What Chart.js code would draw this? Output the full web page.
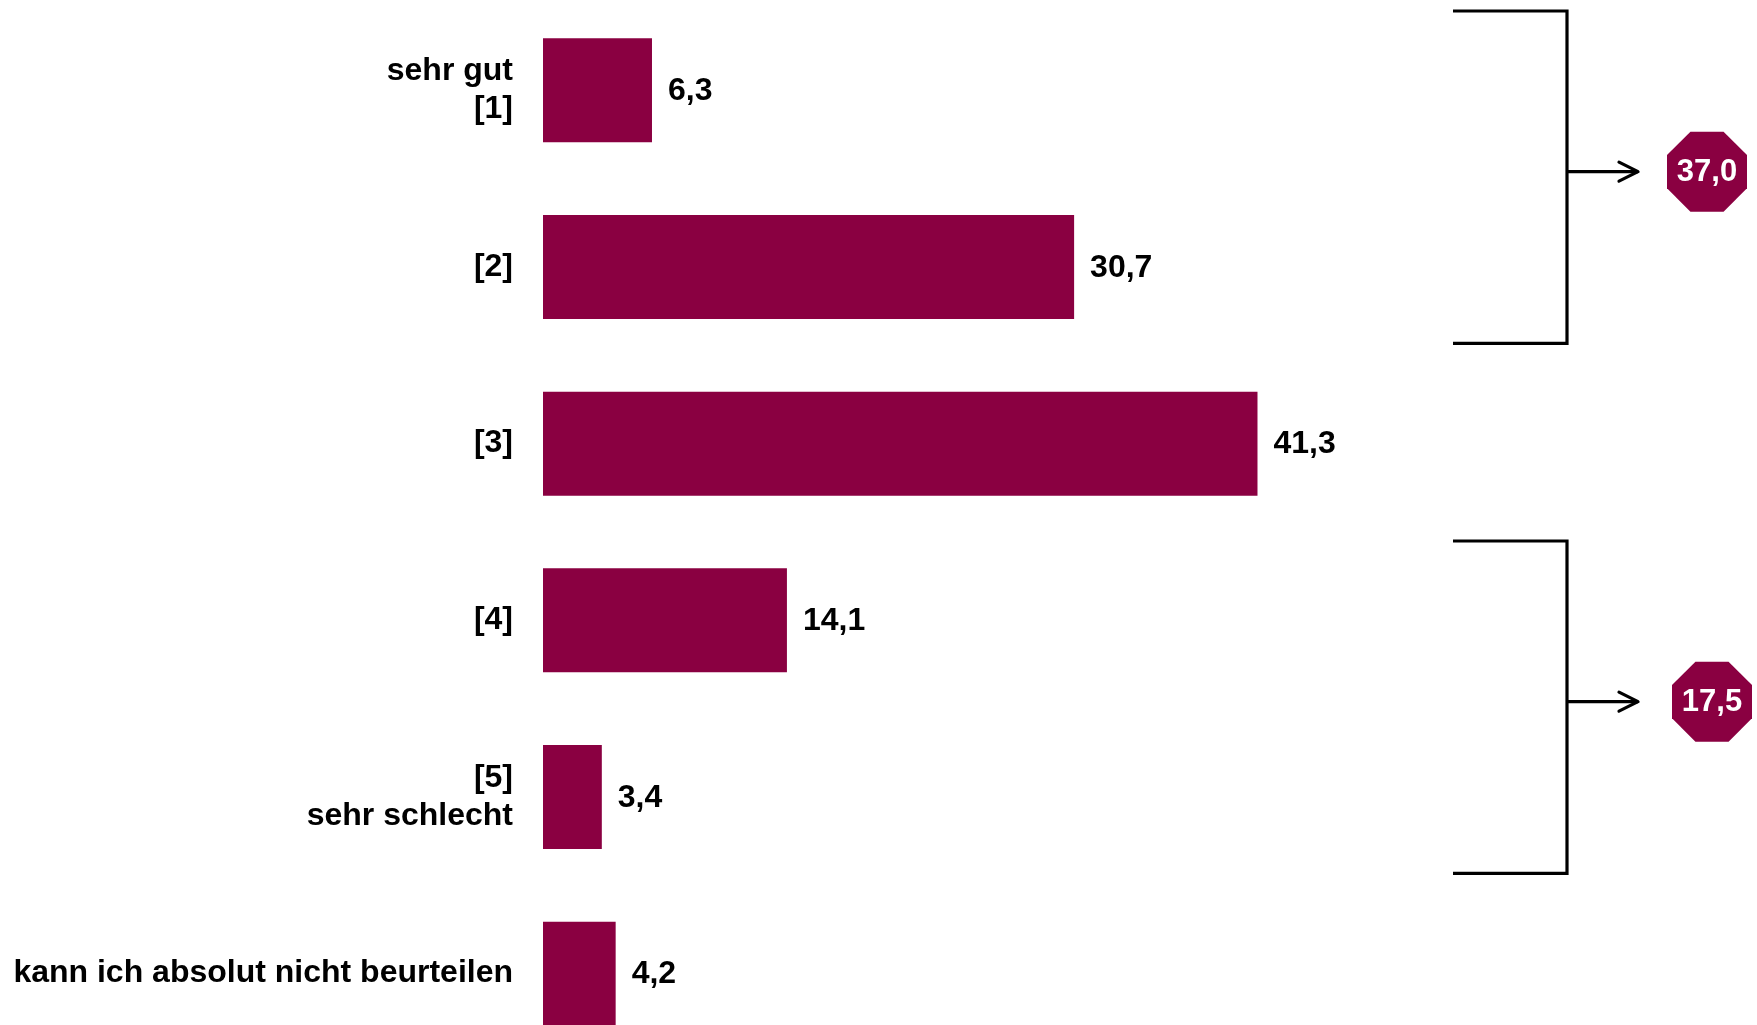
<!DOCTYPE html>
<html>
<head>
<meta charset="utf-8">
<script src="https://cdn.jsdelivr.net/npm/chart.js@4/dist/chart.umd.min.js"></script>
<style>
  html, body { margin: 0; padding: 0; background: #ffffff; overflow: hidden; }
  #wrap { width: 1757px; height: 1062px; }
</style>
</head>
<body>
<div id="wrap"><canvas id="chart" width="1757" height="1062"></canvas></div>
<script>
// Rating categories (top to bottom) and their shares in percent
const categories = [
  ['sehr gut', '[1]'],
  '[2]',
  '[3]',
  '[4]',
  ['[5]', 'sehr schlecht'],
  'kann ich absolut nicht beurteilen'
];
const shares = [6.3, 30.7, 41.3, 14.1, 3.4, 4.2];

// Summary groups: first and last category index of each bracket
const groupFirst = [0, 3];
const groupLast = [1, 4];

const BAR_COLOR = '#8A0041';
const FONT = '"Liberation Sans", Arial, sans-serif';

const fmt = v => v.toFixed(1).replace('.', ',');

// Value labels at the end of each bar
const valueLabels = {
  id: 'valueLabels',
  afterDatasetsDraw(chart) {
    const ctx = chart.ctx;
    const meta = chart.getDatasetMeta(0);
    ctx.save();
    ctx.font = 'bold 32px ' + FONT;
    ctx.fillStyle = '#000';
    ctx.textAlign = 'left';
    ctx.textBaseline = 'middle';
    meta.data.forEach((bar, i) => {
      ctx.fillText(fmt(shares[i]), bar.x + 16, bar.y + 1);
    });
    ctx.restore();
  }
};

// Brackets with arrow and octagon badge showing the group total
const groupBrackets = {
  id: 'groupBrackets',
  afterDraw(chart, args, opts) {
    const ctx = chart.ctx;
    const y = chart.scales.y;
    const half = (y.getPixelForValue(1) - y.getPixelForValue(0)) / 2;
    ctx.save();
    groupFirst.forEach((first, g) => {
      const last = groupLast[g];
      const top = y.getPixelForValue(first) - half + 9;
      const bottom = y.getPixelForValue(last) + half - 12;
      const mid = (top + bottom) / 2 - 5.5;
      let total = 0;
      for (let i = first; i <= last; i++) total += shares[i];

      const xl = opts.bracketLeft, xr = opts.bracketRight;
      ctx.strokeStyle = '#000';
      ctx.lineWidth = 3.2;
      ctx.lineJoin = 'miter';
      ctx.lineCap = 'butt';
      ctx.beginPath();
      ctx.moveTo(xl, top);
      ctx.lineTo(xr, top);
      ctx.lineTo(xr, bottom);
      ctx.lineTo(xl, bottom);
      ctx.stroke();

      // arrow
      const ax = opts.arrowEnd;
      ctx.beginPath();
      ctx.moveTo(xr, mid);
      ctx.lineTo(ax, mid);
      ctx.stroke();
      ctx.lineCap = 'round';
      ctx.lineJoin = 'round';
      ctx.beginPath();
      ctx.moveTo(ax - 19, mid - 9.5);
      ctx.lineTo(ax, mid);
      ctx.lineTo(ax - 19, mid + 9.5);
      ctx.stroke();

      // octagon badge
      const cx = opts.badgeX[g];
      const r = 40;
      const s = r * Math.tan(Math.PI / 8);
      ctx.fillStyle = BAR_COLOR;
      ctx.beginPath();
      ctx.moveTo(cx - s, mid - r);
      ctx.lineTo(cx + s, mid - r);
      ctx.lineTo(cx + r, mid - s);
      ctx.lineTo(cx + r, mid + s);
      ctx.lineTo(cx + s, mid + r);
      ctx.lineTo(cx - s, mid + r);
      ctx.lineTo(cx - r, mid + s);
      ctx.lineTo(cx - r, mid - s);
      ctx.closePath();
      ctx.fill();

      ctx.fillStyle = '#fff';
      ctx.font = 'bold 31px ' + FONT;
      ctx.textAlign = 'center';
      ctx.textBaseline = 'middle';
      ctx.fillText(fmt(total), cx, mid + 1);
    });
    ctx.restore();
  }
};

new Chart(document.getElementById('chart'), {
  type: 'bar',
  data: {
    labels: categories,
    datasets: [{
      data: shares,
      backgroundColor: BAR_COLOR,
      borderWidth: 0,
      categoryPercentage: 1,
      barPercentage: 0.589
    }]
  },
  options: {
    indexAxis: 'y',
    responsive: false,
    animation: false,
    devicePixelRatio: 1,
    layout: { padding: { top: 2, bottom: 0, left: 0, right: 349 } },
    plugins: {
      legend: { display: false },
      tooltip: { enabled: false },
      groupBrackets: {
        bracketLeft: 1453,
        bracketRight: 1567,
        arrowEnd: 1638,
        badgeX: [1707, 1712]
      }
    },
    scales: {
      x: {
        display: false,
        min: 0,
        max: 50
      },
      y: {
        afterFit(scale) {
          scale.width = 543;
          scale.paddingTop = 0;
          scale.paddingBottom = 0;
        },
        grid: { display: false, drawTicks: false },
        border: { display: false },
        ticks: {
          color: '#000',
          padding: 30,
          font: { family: FONT, size: 32, weight: 'bold', lineHeight: 1.17 }
        }
      }
    }
  },
  plugins: [valueLabels, groupBrackets]
});
</script>
</body>
</html>
